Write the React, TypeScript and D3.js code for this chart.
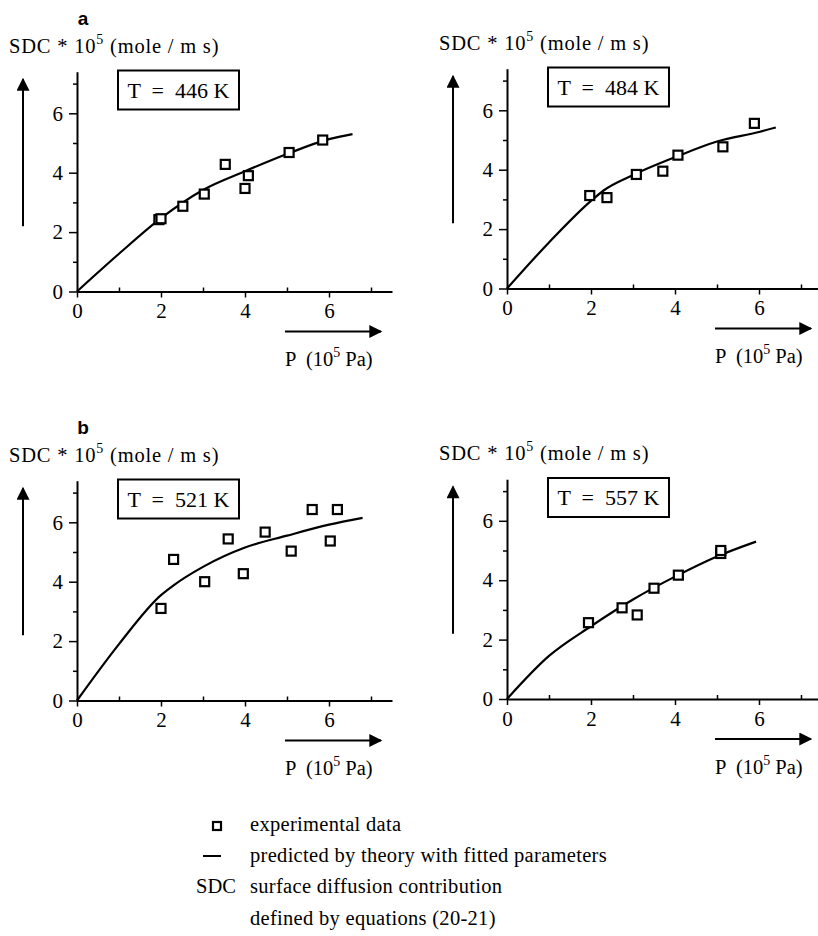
import React, { useEffect, useRef } from 'react';
import * as d3 from 'd3';

// axis ticks
const xMajor = [0, 2, 4, 6];
const xMinor = [1, 3, 5, 7];
const yMajor = [0, 2, 4, 6];
const yMinor = [1, 3, 5, 7];

// T = 446 K
const exp446P = [1.95, 2.0, 2.52, 3.03, 3.53, 4.0, 4.08, 5.05, 5.85];
const exp446S = [2.42, 2.45, 2.87, 3.28, 4.28, 3.47, 3.9, 4.68, 5.1];
const fit446P = [0, 1, 2, 3, 4, 5, 6, 6.56];
const fit446S = [0, 1.27, 2.47, 3.42, 4.05, 4.63, 5.13, 5.3];

// T = 484 K
const exp484P = [1.97, 2.38, 3.08, 3.71, 4.07, 5.14, 5.89];
const exp484S = [3.13, 3.06, 3.84, 3.95, 4.49, 4.77, 5.56];
const fit484P = [0, 1, 2, 2.3, 3, 4, 5, 6, 6.4];
const fit484S = [0, 1.55, 2.95, 3.3, 3.82, 4.42, 4.95, 5.27, 5.42];

// T = 521 K
const exp521P = [2.0, 2.3, 3.04, 3.6, 3.96, 4.48, 5.1, 5.6, 6.03, 6.2];
const exp521S = [3.1, 4.75, 4.0, 5.44, 4.27, 5.67, 5.03, 6.43, 5.37, 6.43];
const fit521P = [0, 1, 2, 2.3, 3, 4, 5, 6, 6.8];
const fit521S = [0, 1.9, 3.55, 3.88, 4.5, 5.15, 5.55, 5.92, 6.15];

// T = 557 K
const exp557P = [1.94, 2.74, 3.1, 3.5, 4.08, 5.09, 5.09];
const exp557S = [2.57, 3.07, 2.83, 3.73, 4.17, 4.9, 5.0];
const fit557P = [0, 1, 2, 3, 4, 5, 5.93];
const fit557S = [0, 1.45, 2.45, 3.35, 4.12, 4.8, 5.3];

const legendItems = [
  'experimental data',
  'predicted by theory with fitted parameters',
  'surface diffusion contribution',
  'defined by equations (20-21)',
];

const panels = [
  { letter: 'a', temp: 'T  =  446 K', ox: 77, oy: 291.5, expP: exp446P, expS: exp446S, fitP: fit446P, fitS: fit446S },
  { letter: '', temp: 'T  =  484 K', ox: 507, oy: 288.5, expP: exp484P, expS: exp484S, fitP: fit484P, fitS: fit484S },
  { letter: 'b', temp: 'T  =  521 K', ox: 77, oy: 700.5, expP: exp521P, expS: exp521S, fitP: fit521P, fitS: fit521S },
  { letter: '', temp: 'T  =  557 K', ox: 507, oy: 699, expP: exp557P, expS: exp557S, fitP: fit557P, fitS: fit557S },
];

const SERIF = '"Liberation Serif", "Times New Roman", serif';
const SANS = '"Liberation Sans", Arial, sans-serif';

const App = () => {
  const svgRef = useRef(null);

  useEffect(() => {
    const svg = d3.select(svgRef.current);
    svg.selectAll('*').remove();

    const defs = svg.append('defs');
    defs.append('marker')
      .attr('id', 'head')
      .attr('viewBox', '0 0 10 10')
      .attr('refX', 9)
      .attr('refY', 5)
      .attr('markerUnits', 'userSpaceOnUse')
      .attr('markerWidth', 16)
      .attr('markerHeight', 13)
      .attr('orient', 'auto')
      .append('path')
      .attr('d', 'M0,0 L10,5 L0,10 Z')
      .attr('fill', '#000');

    const unitX = 42;
    const unitY = 29.7;

    panels.forEach(p => {
      const x = d3.scaleLinear().domain([0, 7.5]).range([p.ox, p.ox + 7.5 * unitX]);
      const y = d3.scaleLinear().domain([0, 7.4]).range([p.oy, p.oy - 7.4 * unitY]);
      const g = svg.append('g');

      // minor ticks
      g.append('g')
        .attr('transform', `translate(0,${p.oy})`)
        .call(d3.axisTop(x).tickValues(xMinor).tickSize(4).tickFormat(() => ''))
        .call(s => s.select('.domain').remove())
        .selectAll('line').attr('stroke-width', 1.5);
      g.append('g')
        .attr('transform', `translate(${p.ox},0)`)
        .call(d3.axisLeft(y).tickValues(yMinor).tickSize(4).tickFormat(() => ''))
        .call(s => s.select('.domain').remove())
        .selectAll('line').attr('stroke-width', 1.5);

      // major axes
      const xa = g.append('g')
        .attr('transform', `translate(0,${p.oy})`)
        .call(d3.axisBottom(x).tickValues(xMajor).tickSize(6).tickSizeOuter(0).tickPadding(6).tickFormat(d3.format('d')));
      const ya = g.append('g')
        .attr('transform', `translate(${p.ox},0)`)
        .call(d3.axisLeft(y).tickValues(yMajor).tickSize(8).tickSizeOuter(0).tickPadding(6).tickFormat(d3.format('d')));
      [xa, ya].forEach(a => {
        a.attr('font-family', SERIF).attr('font-size', 21);
        a.select('.domain').attr('stroke-width', 2);
        a.selectAll('line').attr('stroke-width', 1.5);
        a.selectAll('text').attr('fill', '#000');
      });

      // fitted curve
      const line = d3.line<number>()
        .x(d => x(d))
        .y((d, i) => y(p.fitS[i]))
        .curve(d3.curveMonotoneX);
      g.append('path')
        .attr('d', line(p.fitP))
        .attr('fill', 'none')
        .attr('stroke', '#000')
        .attr('stroke-width', 2.2);

      // experimental points
      g.selectAll('rect.pt')
        .data(p.expP)
        .enter().append('rect')
        .attr('class', 'pt')
        .attr('x', d => x(d) - 4.5)
        .attr('y', (d, i) => y(p.expS[i]) - 4.5)
        .attr('width', 9)
        .attr('height', 9)
        .attr('fill', '#fff')
        .attr('stroke', '#000')
        .attr('stroke-width', 2.2);

      // temperature box
      g.append('rect')
        .attr('x', p.ox + 41)
        .attr('y', p.oy - 221)
        .attr('width', 121)
        .attr('height', 39)
        .attr('fill', '#fff')
        .attr('stroke', '#000')
        .attr('stroke-width', 2);
      g.append('text')
        .attr('x', p.ox + 101.5)
        .attr('y', p.oy - 194)
        .attr('text-anchor', 'middle')
        .attr('font-family', SERIF)
        .attr('font-size', 22)
        .style('white-space', 'pre')
        .text(p.temp);

      // y label
      const yl = g.append('text')
        .attr('x', p.ox - 68)
        .attr('y', p.oy - 239)
        .attr('font-family', SERIF)
        .attr('font-size', 20.5)
        .attr('letter-spacing', 0.8);
      yl.append('tspan').text('SDC * 10');
      yl.append('tspan').attr('dy', -9).attr('font-size', 14).text('5');
      yl.append('tspan').attr('dy', 9).text(' (mole / m s)');

      if (p.letter) {
        g.append('text')
          .attr('x', p.ox + 6)
          .attr('y', p.oy - 267)
          .attr('text-anchor', 'middle')
          .attr('font-family', SANS)
          .attr('font-weight', 'bold')
          .attr('font-size', 19)
          .text(p.letter);
      }

      // vertical arrow
      g.append('line')
        .attr('x1', p.ox - 54).attr('x2', p.ox - 54)
        .attr('y1', y(2.2)).attr('y2', y(7.15))
        .attr('stroke', '#000')
        .attr('stroke-width', 2)
        .attr('marker-end', 'url(#head)');

      // horizontal arrow
      g.append('line')
        .attr('x1', p.ox + 208).attr('x2', p.ox + 304)
        .attr('y1', p.oy + 40).attr('y2', p.oy + 40)
        .attr('stroke', '#000')
        .attr('stroke-width', 2)
        .attr('marker-end', 'url(#head)');

      const xl = g.append('text')
        .attr('x', p.ox + 208)
        .attr('y', p.oy + 74.5)
        .attr('font-family', SERIF)
        .attr('font-size', 20.5)
        .style('white-space', 'pre');
      xl.append('tspan').text('P  (10');
      xl.append('tspan').attr('dy', -9).attr('font-size', 14).text('5');
      xl.append('tspan').attr('dy', 9).text(' Pa)');
    });

    // legend
    const lg = svg.append('g').attr('font-family', SERIF).attr('font-size', 20.5);
    lg.append('rect')
      .attr('x', 213).attr('y', 822)
      .attr('width', 8).attr('height', 8)
      .attr('fill', '#fff').attr('stroke', '#000').attr('stroke-width', 2.2);
    lg.append('line')
      .attr('x1', 203).attr('x2', 221)
      .attr('y1', 856).attr('y2', 856)
      .attr('stroke', '#000').attr('stroke-width', 2);
    lg.append('text').attr('x', 196).attr('y', 893).text('SDC');
    const rows = [831, 862, 893, 925];
    lg.selectAll('text.item')
      .data(legendItems)
      .enter().append('text')
      .attr('class', 'item')
      .attr('x', 250)
      .attr('y', (d, i) => rows[i])
      .attr('letter-spacing', 0.3)
      .text(d => d);
  }, []);

  return (
    <svg ref={svgRef} width={818} height={936}
      style={{ position: 'absolute', left: 0, top: 0, background: '#fff' }} />
  );
};

export default App;
